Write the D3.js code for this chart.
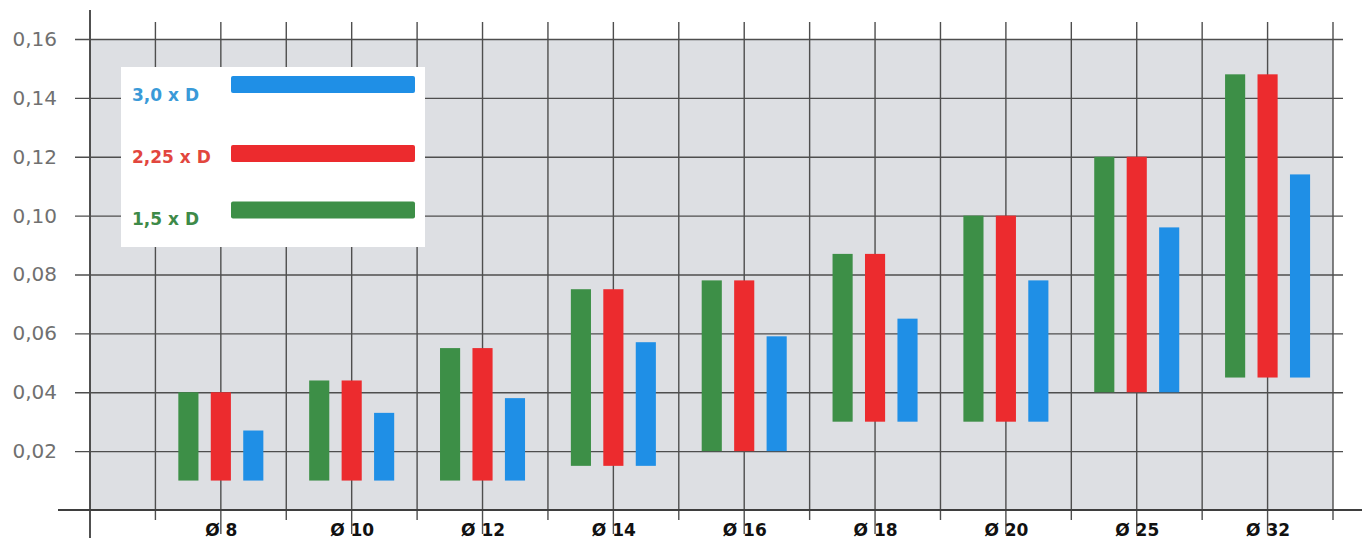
<!DOCTYPE html>
<html><head><meta charset="utf-8">
<script src="https://cdn.jsdelivr.net/npm/d3@7"></script>
<style>html,body{margin:0;padding:0;background:#fff;} svg{display:block;}</style>
</head><body><svg id="c" width="1367" height="542"></svg>
<script>
// ---- data ----
const categories = ["Ø 8","Ø 10","Ø 12","Ø 14","Ø 16","Ø 18","Ø 20","Ø 25","Ø 32"];
const seriesNames = ["1,5 x D","2,25 x D","3,0 x D"];
const seriesColors = ["#3d8f47","#ec2b2e","#1f8fe6"];
const legendTextColors = ["#3e8a48","#e2463e","#3a9ad8"];
const top15  = [0.040,0.044,0.055,0.075,0.078,0.087,0.100,0.120,0.148];
const top225 = [0.040,0.044,0.055,0.075,0.078,0.087,0.100,0.120,0.148];
const top30  = [0.027,0.033,0.038,0.057,0.059,0.065,0.078,0.096,0.114];
const bottoms = [0.010,0.010,0.010,0.015,0.020,0.030,0.030,0.040,0.045];
const yTickValues = [0.02,0.04,0.06,0.08,0.10,0.12,0.14,0.16];
const yTickLabels = ["0,02","0,04","0,06","0,08","0,10","0,12","0,14","0,16"];

// ---- layout ----
const L = 90, R = 1333, T = 39, B = 510;
const svg = d3.select("#c");
const gridColor = "#4e4e4e";

const y = d3.scaleLinear().domain([0, 0.16]).range([B, T]);
const xGrid = d3.scaleLinear().domain([0, 19]).range([L, R]);
const xCat = d3.scalePoint().domain(categories).range([xGrid(2), xGrid(18)]);
const xSub = d3.scaleBand().domain(seriesNames).range([-49, 49]).paddingInner(0.38).paddingOuter(0.2);

// plot background
svg.append("rect").attr("x", L).attr("y", T).attr("width", R - L).attr("height", B - T).attr("fill", "#dddfe3");

// vertical grid lines
const gridIdx = d3.range(1, 20);
svg.append("g").selectAll("line").data(gridIdx).join("line")
  .attr("x1", d => xGrid(d)).attr("x2", d => xGrid(d))
  .attr("y1", 22)
  .attr("y2", d => (d % 2 === 0 && d <= 18) ? 534 : 520)
  .attr("stroke", gridColor).attr("stroke-width", 1.4);

// left axis line
svg.append("line").attr("x1", L).attr("x2", L).attr("y1", 10).attr("y2", 538)
  .attr("stroke", "#3e3e3e").attr("stroke-width", 1.8);

// y axis with horizontal grid
const yAxis = d3.axisLeft(y).tickValues(yTickValues)
  .tickFormat((d, i) => yTickLabels[i])
  .tickSize(1343 - 75).tickPadding(18);
const gy = svg.append("g").attr("transform", "translate(1343,0)").call(yAxis);
gy.select(".domain").remove();
gy.selectAll(".tick line").attr("stroke", gridColor).attr("stroke-width", 1.4);
gy.selectAll(".tick text").attr("fill", "#707070")
  .style("font-family", "'DejaVu Sans', sans-serif").style("font-size", "20px");

// baseline
svg.append("line").attr("x1", 58).attr("x2", 1362).attr("y1", y(0)).attr("y2", y(0))
  .attr("stroke", "#3e3e3e").attr("stroke-width", 1.8);

// legend box
svg.append("rect").attr("x", 121).attr("y", 67).attr("width", 304).attr("height", 180).attr("fill", "#ffffff");

// bars
const seriesTops = [top15, top225, top30];
const barData = [];
categories.forEach((c, i) => {
  seriesNames.forEach((s, j) => {
    barData.push({cat: c, ser: s, lo: bottoms[i], hi: seriesTops[j][i], color: seriesColors[j]});
  });
});
svg.append("g").selectAll("rect").data(barData).join("rect")
  .attr("x", d => xCat(d.cat) + xSub(d.ser))
  .attr("width", xSub.bandwidth())
  .attr("y", d => y(d.hi))
  .attr("height", d => y(d.lo) - y(d.hi))
  .attr("fill", d => d.color);

// x category labels
const xAxis = d3.axisBottom(xCat).tickSize(0).tickPadding(0);
const gx = svg.append("g").attr("transform", "translate(0,0)").call(xAxis);
gx.select(".domain").remove();
gx.selectAll(".tick text").attr("fill", "#111").attr("y", 536).attr("dy", null)
  .style("font-family", "'DejaVu Sans', sans-serif").style("font-weight", "bold").style("font-size", "17px");

// legend entries (top to bottom: 3,0 / 2,25 / 1,5)
const legendOrder = [2, 1, 0];
const legendRowY = [84.5, 153.5, 210];
const legendTextY = [101, 163, 225];
const lg = svg.append("g");
legendOrder.forEach((j, k) => {
  lg.append("text").attr("x", 132).attr("y", legendTextY[k])
    .attr("fill", legendTextColors[j])
    .style("font-family", "'DejaVu Sans', sans-serif").style("font-weight", "bold").style("font-size", "17px")
    .text(seriesNames[j]);
  lg.append("rect").attr("x", 231).attr("y", legendRowY[k] - 8.5).attr("width", 184).attr("height", 17)
    .attr("rx", 2).attr("fill", seriesColors[j]);
});
</script>
</body></html>
